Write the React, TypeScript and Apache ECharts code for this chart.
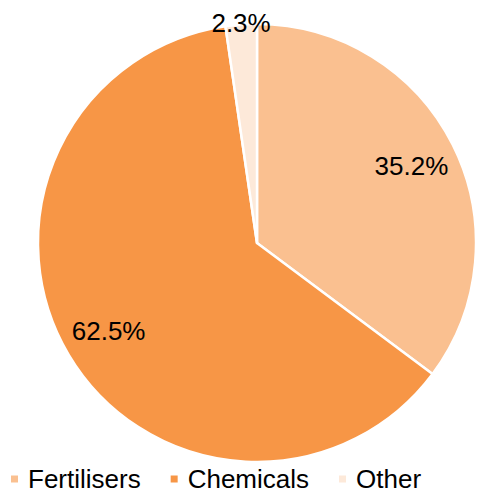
import React, { useEffect, useRef } from "react";
import * as echarts from "echarts";

const categories = ["Fertilisers", "Chemicals", "Other"];
const values = [35.2, 62.5, 2.3];
const colors = ["#FAC090", "#F79646", "#FDE9D9"];

export default function App() {
  const ref = useRef<HTMLDivElement>(null);
  useEffect(() => {
    document.body.style.margin = "0";
    if (!ref.current) return;
    const chart = echarts.init(ref.current, undefined, { renderer: "svg" });
    const data = categories.map((name, i) => ({
      name,
      value: values[i],
      itemStyle: { color: colors[i] },
    }));
    const R = 219;
    const center = [257, 243];
    const fmt = (p: any) => p.value.toFixed(1) + "%";
    const labelStyle = {
      fontFamily: "Liberation Sans, Arial, sans-serif",
      fontSize: 26,
      color: "#000",
    };
    chart.setOption({
      animation: false,
      legend: {
        data: categories,
        left: 4,
        top: 466,
        padding: [0, 5, 0, 5],
        icon: "rect",
        itemWidth: 9,
        itemHeight: 9,
        itemGap: 28,
        textStyle: {
          fontFamily: "Liberation Sans, Arial, sans-serif",
          fontSize: 26,
          lineHeight: 24,
          color: "#000",
          padding: [0, 0, 0, 4],
        },
      },
      series: [
        {
          type: "pie",
          center,
          radius: [0, R],
          startAngle: 90,
          clockwise: true,
          silent: true,
          itemStyle: { borderColor: "#fff", borderWidth: 2.5 },
          label: { show: false },
          labelLine: { show: false },
          data,
        },
        {
          type: "pie",
          center,
          radius: [R * 0.55, R],
          startAngle: 90,
          silent: true,
          itemStyle: { color: "transparent", borderWidth: 0 },
          label: { show: true, position: "inside", formatter: fmt, ...labelStyle },
          labelLine: { show: false },
          data: data.map((d, i) => ({
            name: d.name,
            value: d.value,
            itemStyle: { color: "transparent" },
            label: { show: i < 2 },
          })),
        },
        {
          type: "pie",
          center,
          radius: [R * 0.96, R * 1.03],
          startAngle: 90,
          silent: true,
          itemStyle: { color: "transparent", borderWidth: 0 },
          label: { show: true, position: "inside", formatter: fmt, ...labelStyle },
          labelLine: { show: false },
          data: data.map((d, i) => ({
            name: d.name,
            value: d.value,
            itemStyle: { color: "transparent" },
            label: { show: i === 2 },
          })),
        },
      ],
    });
    return () => chart.dispose();
  }, []);
  return <div ref={ref} style={{ width: 477, height: 494 }} />;
}
